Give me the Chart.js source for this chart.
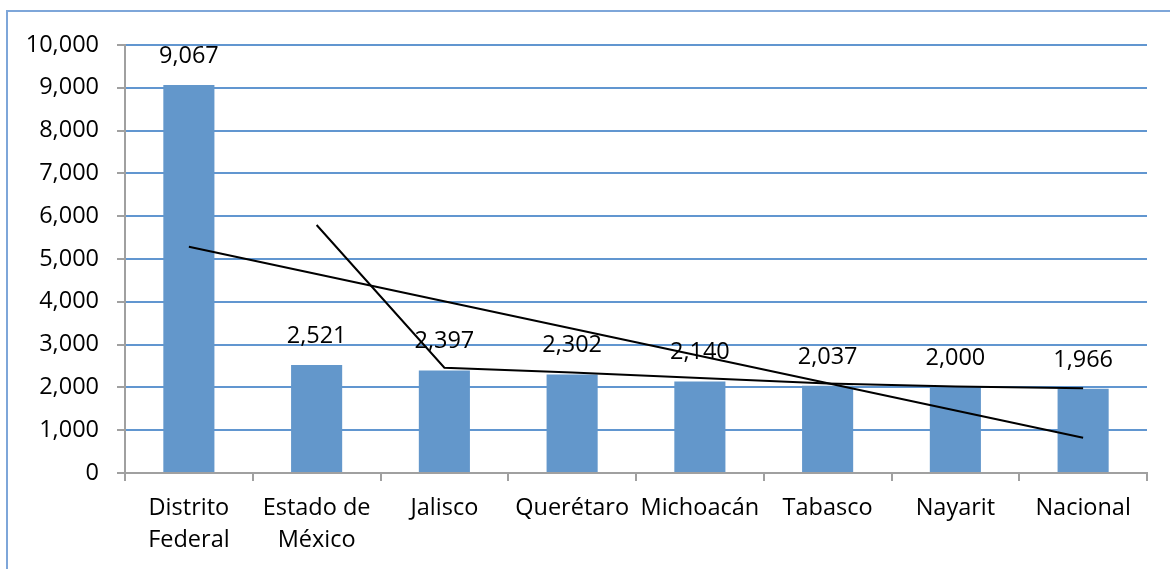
<!DOCTYPE html>
<html>
<head>
<meta charset="utf-8">
<script src="https://cdn.jsdelivr.net/npm/chart.js@4/dist/chart.umd.min.js"></script>
<style>
  html, body { margin: 0; padding: 0; background: #fff; }
  #wrap { width: 1170px; height: 569px; }
</style>
</head>
<body>
<div id="wrap"><canvas id="myChart" width="1170" height="569"></canvas></div>
<script>
var categories = [['Distrito', 'Federal'], ['Estado de', 'México'], 'Jalisco', 'Querétaro', 'Michoacán', 'Tabasco', 'Nayarit', 'Nacional'];
var values = [9067, 2521, 2397, 2302, 2140, 2037, 2000, 1966];
// lineas de tendencia (lineal y media movil de 2 periodos)
var linearTrend = [5285, null, null, null, null, null, null, 822];
var movingAvg = [null, 5794, 2459, 2350, 2221, 2089, 2019, 1983];
var yTicks = [0, 1000, 2000, 3000, 4000, 5000, 6000, 7000, 8000, 9000, 10000];

var fontFamily = '"Open Sans", "Noto Sans", sans-serif';

Chart.register({
  id: 'frameAndLabels',
  beforeDraw: function(chart) {
    var ctx = chart.ctx;
    ctx.save();
    ctx.fillStyle = '#fff';
    ctx.fillRect(0, 0, chart.width, chart.height);
    ctx.strokeStyle = '#7ea6d9';
    ctx.lineWidth = 2;
    ctx.strokeRect(7, 11, 1200, 600);
    ctx.restore();
  },
  afterDatasetsDraw: function(chart) {
    var ctx = chart.ctx;
    var meta = chart.getDatasetMeta(0);
    ctx.save();
    ctx.font = '23.5px ' + fontFamily;
    ctx.fillStyle = '#000';
    ctx.textAlign = 'center';
    ctx.textBaseline = 'middle';
    meta.data.forEach(function(bar, i) {
      ctx.fillText(values[i].toLocaleString('en-US'), bar.x, bar.y - 29);
    });
    ctx.restore();
  }
});

var ctx = document.getElementById('myChart').getContext('2d');
var chart = new Chart(ctx, {
  type: 'bar',
  data: {
    labels: categories,
    datasets: [{
      type: 'bar',
      data: values,
      backgroundColor: '#6397cb',
      barPercentage: 0.4,
      categoryPercentage: 1,
      order: 1
    }, {
      type: 'line',
      data: linearTrend,
      borderColor: '#000',
      borderWidth: 2,
      pointRadius: 0,
      spanGaps: true,
      fill: false,
      order: 0
    }, {
      type: 'line',
      data: movingAvg,
      borderColor: '#000',
      borderWidth: 2,
      pointRadius: 0,
      fill: false,
      order: 0
    }]
  },
  options: {
    responsive: false,
    animation: false,
    layout: { padding: { top: 45, right: 23, left: 0, bottom: 0 } },
    plugins: { legend: { display: false }, tooltip: { enabled: false } },
    scales: {
      x: {
        offset: true,
        grid: { display: true, drawOnChartArea: false, offset: true, tickLength: 8, tickColor: '#a0a0a0', lineWidth: 2 },
        border: { color: '#a0a0a0', width: 2 },
        ticks: {
          autoSkip: false,
          maxRotation: 0,
          padding: 11,
          color: '#000',
          font: { size: 23.5, family: fontFamily, lineHeight: 1.36 }
        },
        afterFit: function(scale) { scale.height = 96; }
      },
      y: {
        min: 0,
        max: 10000,
        afterBuildTicks: function(scale) {
          scale.ticks = yTicks.map(function(v) { return { value: v }; });
        },
        grid: { color: '#6196d0', lineWidth: 2, tickLength: 8, tickColor: '#a0a0a0' },
        border: { color: '#a0a0a0', width: 2 },
        ticks: {
          padding: 18,
          color: '#000',
          font: { size: 23.5, family: fontFamily },
          callback: function(v) { return v.toLocaleString('en-US'); }
        },
        afterFit: function(scale) { scale.width = 125; }
      }
    }
  }
});
</script>
</body>
</html>
